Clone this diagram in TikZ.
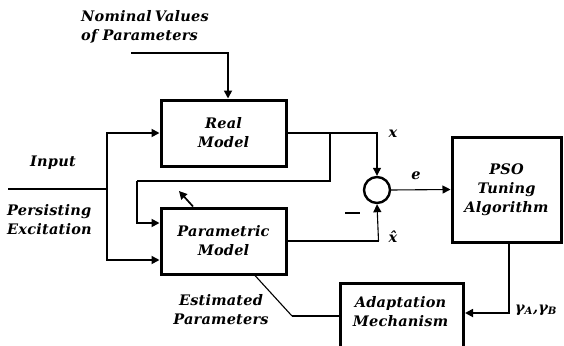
\documentclass[tikz,border=0pt]{standalone}
\usepackage{fontspec}
\usetikzlibrary{arrows.meta,calc}
\setmainfont{DejaVu Serif}[LetterSpace=1.5]
\begin{document}
\begin{tikzpicture}[x=1pt,y=-1pt,
  blk/.style={draw, line width=3pt, rectangle, inner sep=0pt},
  lbl/.style={font=\bfseries\itshape\fontsize{14.5}{19}\selectfont, align=center, inner sep=0pt},
  wire/.style={line width=1.7pt},
  thin/.style={line width=1.1pt},
  arr/.style={-{Triangle[length=8pt,width=8pt]}}]
  \clip (0,0) rectangle (564,345);

  % blocks
  \node[blk, minimum width=125, minimum height=66] (real) at (223.5,133) {};
  \node[lbl] (realtxt) at (223.5,133) {Real\\Model};
  \node[blk, minimum width=109, minimum height=105] (pso) at (506.5,189.5) {};
  \node[lbl] (psotxt) at (506.5,189.5) {PSO\\Tuning\\Algorithm};
  \node[blk, minimum width=125, minimum height=66] (param) at (223.5,241) {};
  \node[lbl] (paramtxt) at (223.5,241) {Parametric\\Model};
  \node[blk, minimum width=123, minimum height=90, anchor=north west] (adapt) at (339,282) {};
  \node[lbl] (adapttxt) at (400.5,312) {Adaptation\\Mechanism};
  \node[draw, circle, line width=2.4pt, minimum size=26, inner sep=0pt] (sum) at (377,190) {};

  % free ends
  \coordinate (nom) at (131,53);
  \coordinate (inp) at (8,189);
  \coordinate (split) at (107,189);
  \coordinate (fb) at (330,133);
  \coordinate (fbcorner) at (330,181);
  \coordinate (fbleft) at (137,181);
  \coordinate (estpt) at (292,316);
  \coordinate (tweak) at (179,191);

  % signal paths
  \draw[wire, arr] (nom) -| ($(real.north)+(4.5,0)$);
  \draw[wire] (inp) -- (split);
  \draw[wire, arr] (split) |- (real.west);
  \draw[wire, arr] (split) |- ($(param.west)+(0,19)$);
  \draw[wire] (real.east) -- (fb);
  \draw[thin, arr] (fb) -| (sum.north);
  \draw[wire] (fb) -- (fbcorner) -- (fbleft);
  \draw[wire, arr] (fbleft) |- ($(param.west)+(0,-18)$);
  \draw[wire, arr] ($(param.north)+(-30.5,0)$) -- (tweak);
  \draw[wire] (param.east) -- ($(param.east)+(91,0)$);
  \draw[thin, arr] ($(param.east)+(91,0)$) -- (sum.south);
  \draw[thin, arr] (sum.east) -- (pso.west);
  \draw[wire, arr] ($(pso.south)+(2.5,0)$) |- ($(adapt.north east)+(0,31)$);
  \draw[wire] ($(adapt.north west)+(0,34)$) -- (estpt);
  \draw[thin] (estpt) -- ($(param.south)+(31.5,0)$);

  % labels
  \node[lbl, align=left, anchor=west] (nomtxt) at (81,27) {Nominal\hspace{-2pt} Values\\of Parameters};
  \node[lbl] (inptxt) at (53,163) {Input};
  \node[lbl, align=left, anchor=west] (pertxt) at (7,220) {Persisting\\Excitation};
  \node[lbl] (esttxt) at (221,310) {Estimated\\Parameters};
  \node[lbl] (xlbl) at (393,134) {x};
  \node[lbl] (elbl) at (416,176) {e};
  \node[lbl] (xhlbl) at (393,237) {x\symbol{"0302}};
  \node[lbl] (glbl) at (536,310) {γ\textsubscript{A},γ\textsubscript{B}};
  \draw[line width=2pt] (345,213) -- (360,213);
\end{tikzpicture}
\end{document}
